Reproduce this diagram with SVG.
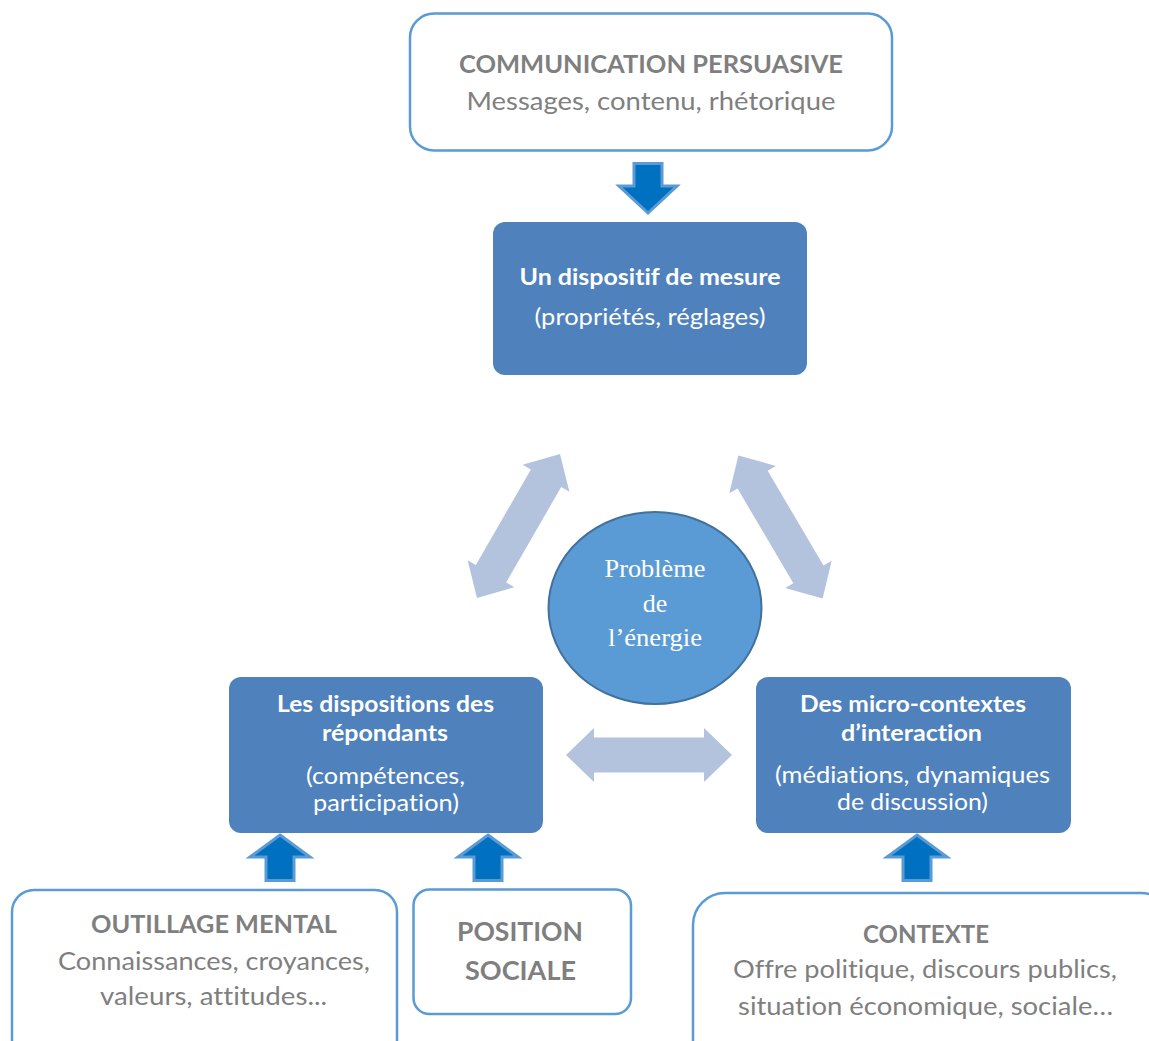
<svg xmlns="http://www.w3.org/2000/svg" width="1149" height="1041" viewBox="0 0 1149 1041">
<style>
.wbox{fill:#FFFFFF;stroke:#5B9BD5;stroke-width:2.5}
.bbox{fill:#4F81BD;stroke:none}
.gt{font-family:Lato,"Liberation Sans",sans-serif;fill:#7F7F7F;text-anchor:middle;font-variant-ligatures:none;font-feature-settings:"liga" 0}
.wt{font-family:Lato,"Liberation Sans",sans-serif;fill:#FFFFFF;text-anchor:middle;font-variant-ligatures:none;font-feature-settings:"liga" 0}
.b{font-weight:bold}
.dbl{fill:#B3C3DE}
.up{fill:#0070C0;stroke:#5B9BD5;stroke-width:3;stroke-linejoin:miter}
.ct{font-family:"Liberation Serif","Times New Roman",serif;fill:#FFFFFF;text-anchor:middle;font-size:26px}
</style>
<defs>
<polygon id="dblArrow" points="-83,0 -55,-27 -55,-17.5 55,-17.5 55,-27 83,0 55,27 55,17.5 -55,17.5 -55,27"/>
</defs>
<rect width="1149" height="1041" fill="#FFFFFF"/>

<g id="connectors">
<path class="up" d="M634,163.5 L662,163.5 L662,186 L677,186 L648,213 L619,186 L634,186 Z"/>
<use href="#dblArrow" class="dbl" transform="translate(518.5,526) rotate(-60)"/>
<use href="#dblArrow" class="dbl" transform="translate(780.5,527) rotate(59.5)"/>
<use href="#dblArrow" class="dbl" transform="translate(649,755)"/>
<path class="up" d="M280,835 L310,857 L294,857 L294,880.5 L266,880.5 L266,857 L250,857 Z"/>
<path class="up" d="M488,835 L518,857 L502,857 L502,880.5 L474,880.5 L474,857 L458,857 Z"/>
<path class="up" d="M917,835 L947,857 L931,857 L931,880.5 L903,880.5 L903,857 L887,857 Z"/>
</g>

<g id="communication">
<rect class="wbox" x="410" y="13.5" width="482" height="137" rx="24"/>
<text class="gt b" x="651" y="73" font-size="25" textLength="384" lengthAdjust="spacingAndGlyphs">COMMUNICATION PERSUASIVE</text>
<text class="gt" x="651" y="110" font-size="25" textLength="369" lengthAdjust="spacingAndGlyphs">Messages, contenu, rhétorique</text>
</g>

<g id="dispositif">
<rect class="bbox" x="493" y="222" width="314" height="153" rx="12"/>
<text class="wt b" x="650" y="285" font-size="23" textLength="261" lengthAdjust="spacingAndGlyphs">Un dispositif de mesure</text>
<text class="wt" x="650" y="325" font-size="23" textLength="231" lengthAdjust="spacingAndGlyphs">(propriétés, réglages)</text>
</g>

<g id="probleme">
<ellipse cx="655" cy="608" rx="106.5" ry="96" fill="#5B9BD5" stroke="#41719C" stroke-width="2"/>
<text class="ct" x="655" y="577" textLength="101" lengthAdjust="spacingAndGlyphs">Problème</text>
<text class="ct" x="655" y="612">de</text>
<text class="ct" x="655" y="646" textLength="94" lengthAdjust="spacingAndGlyphs">l’énergie</text>
</g>

<g id="dispositions">
<rect class="bbox" x="229" y="677" width="314" height="156" rx="12"/>
<text class="wt b" x="385.5" y="712" font-size="23" textLength="217" lengthAdjust="spacingAndGlyphs">Les dispositions des</text>
<text class="wt b" x="385" y="741" font-size="23" textLength="126" lengthAdjust="spacingAndGlyphs">répondants</text>
<text class="wt" x="385.5" y="784" font-size="23" textLength="159" lengthAdjust="spacingAndGlyphs">(compétences,</text>
<text class="wt" x="386" y="811" font-size="23" textLength="146" lengthAdjust="spacingAndGlyphs">participation)</text>
</g>

<g id="microcontextes">
<rect class="bbox" x="756" y="677" width="315" height="156" rx="12"/>
<text class="wt b" x="913" y="712" font-size="23" textLength="226" lengthAdjust="spacingAndGlyphs">Des micro-contextes</text>
<text class="wt b" x="911.5" y="741" font-size="23" textLength="141" lengthAdjust="spacingAndGlyphs">d’interaction</text>
<text class="wt" x="912.5" y="783" font-size="23" textLength="275" lengthAdjust="spacingAndGlyphs">(médiations, dynamiques</text>
<text class="wt" x="912.5" y="810" font-size="23" textLength="151" lengthAdjust="spacingAndGlyphs">de discussion)</text>
</g>

<g id="outillage">
<rect class="wbox" x="12" y="890" width="385" height="200" rx="22"/>
<text class="gt b" x="214" y="933" font-size="25" textLength="246" lengthAdjust="spacingAndGlyphs">OUTILLAGE MENTAL</text>
<text class="gt" x="214" y="970" font-size="25" textLength="312" lengthAdjust="spacingAndGlyphs">Connaissances, croyances,</text>
<text class="gt" x="213.5" y="1005" font-size="25" textLength="227" lengthAdjust="spacingAndGlyphs">valeurs, attitudes...</text>
</g>

<g id="position">
<rect class="wbox" x="413.5" y="889.5" width="217.5" height="124.5" rx="16"/>
<text class="gt b" x="520" y="941" font-size="26" textLength="126" lengthAdjust="spacingAndGlyphs">POSITION</text>
<text class="gt b" x="520.5" y="980" font-size="26" textLength="111" lengthAdjust="spacingAndGlyphs">SOCIALE</text>
</g>

<g id="contexte">
<rect class="wbox" x="693" y="893" width="480" height="200" rx="32"/>
<text class="gt b" x="926" y="943" font-size="25" textLength="126" lengthAdjust="spacingAndGlyphs">CONTEXTE</text>
<text class="gt" x="925" y="978" font-size="25" textLength="384" lengthAdjust="spacingAndGlyphs">Offre politique, discours publics,</text>
<text class="gt" x="925.5" y="1015" font-size="25" textLength="375" lengthAdjust="spacingAndGlyphs">situation économique, sociale…</text>
</g>
</svg>
